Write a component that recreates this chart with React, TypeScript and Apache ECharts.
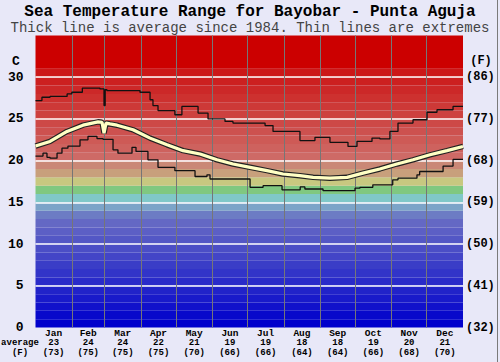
import React, { useEffect, useRef } from 'react';
import * as echarts from 'echarts';

const months = ['Jan', 'Feb', 'Mar', 'Apr', 'May', 'Jun', 'Jul', 'Aug', 'Sep', 'Oct', 'Nov', 'Dec'];
const monthAvgC = [23, 24, 24, 22, 21, 19, 19, 18, 18, 19, 20, 21];
const monthAvgF = [73, 75, 75, 75, 70, 66, 66, 64, 64, 66, 68, 70];
const monthStarts = [0, 31, 59, 90, 120, 151, 181, 212, 243, 273, 304, 334, 365];
const yTicksC = [0, 5, 10, 15, 20, 25, 30];

// [day of year, °C]
const maxTemp: [number, number][] = [
  [0, 27.2], [5.5, 27.6], [12.4, 27.7], [27, 28.0], [31, 28.2], [40, 28.7], [55, 28.6],
  [58.5, 26.6], [59.5, 28.5], [61, 28.4], [89.2, 28.2], [97.8, 27.3], [100.3, 26.6],
  [104.6, 26.0], [119, 25.5], [125, 26.5], [138.8, 25.7], [147.3, 25.0], [161.8, 24.7],
  [168.6, 24.5], [196, 24.2], [202.8, 23.5], [225.8, 22.4], [238.6, 22.8], [251.4, 22.2],
  [266.8, 21.7], [274.5, 22.3], [287.3, 22.7], [294, 22.6], [302.6, 23.5], [309.5, 24.5],
  [322.3, 24.9], [334.3, 25.8], [342.8, 26.1], [356.5, 26.5], [365, 26.5],
];

const minTemp: [number, number][] = [
  [0, 20.55], [6.4, 20.9], [9.8, 20.4], [12.4, 20.3], [18.4, 20.9], [22.6, 21.5], [27.7, 21.75],
  [38, 22.5], [44.8, 22.9], [52.5, 22.65], [57.6, 22.55], [66.2, 21.3], [70.4, 20.9],
  [82.4, 21.6], [85.8, 21.1], [96, 20.1], [104.6, 19.2], [119, 18.8], [136.2, 18.1],
  [146.4, 18.3], [149, 17.8], [183.2, 16.8], [194.3, 17.0], [210.5, 16.5], [226, 16.85],
  [230, 16.6], [245.5, 16.4], [272.8, 16.7], [277, 16.8], [288, 17.1], [305, 17.7],
  [309.5, 17.9], [325.7, 18.3], [328, 18.7], [348, 19.35], [356.5, 20.15], [365, 20.15],
];

const avgTemp: [number, number][] = [
  [0, 21.75], [12.4, 22.3], [26.9, 23.5], [40.6, 24.25], [53.4, 24.65], [56.8, 24.6],
  [58.5, 23.3], [60.2, 24.5], [63.6, 24.4], [69.6, 24.25], [83.3, 23.7], [97.8, 22.7],
  [112.3, 21.9], [126, 21.2], [140.5, 20.8], [155, 20.1], [168.6, 19.6], [183.2, 19.2],
  [197.7, 18.8], [211.3, 18.4], [225.8, 18.2], [237, 18.0], [251.4, 17.9], [266, 18.0],
  [279.6, 18.5], [294, 19.0], [308.6, 19.6], [322.3, 20.1], [336.8, 20.7], [351.3, 21.2],
  [365, 21.7],
];

const FONT = '"Liberation Mono", "DejaVu Sans Mono", monospace';

function mix(a: number[], b: number[], f: number) {
  const c = a.map((v, i) => Math.round(v + (b[i] - v) * f));
  return `rgb(${c[0]},${c[1]},${c[2]})`;
}

function bandColor(t: number): string {
  if (t >= 31) return 'rgb(204,0,0)';
  if (t >= 20) return mix([206, 106, 102], [204, 24, 24], (t - 20) / 10);
  const mid: Record<number, string> = {
    19: 'rgb(202,136,118)',
    18: 'rgb(200,160,124)',
    17: 'rgb(200,200,128)',
    16: 'rgb(128,200,128)',
    15: 'rgb(128,200,200)',
    14: 'rgb(124,164,200)',
    13: 'rgb(108,124,196)',
  };
  if (mid[t]) return mid[t];
  return mix([0, 0, 204], [100, 104, 196], t / 12);
}

export default function App() {
  const ref = useRef<HTMLDivElement>(null);

  useEffect(() => {
    const chart = echarts.init(ref.current!, null, { renderer: 'svg' });

    const bands: any[] = [];
    for (let t = 0; t < 35; t++) {
      if (t >= 31) {
        bands.push([{ yAxis: 31, itemStyle: { color: bandColor(31) } }, { yAxis: 35 }]);
        break;
      }
      bands.push([{ yAxis: t, itemStyle: { color: bandColor(t) } }, { yAxis: t + 1 }]);
    }

    const centers = months.map((_, i) => (monthStarts[i] + monthStarts[i + 1]) / 2);

    const option: any = {
      animation: false,
      backgroundColor: '#e8e8f8',
      grid: {
        left: 35.5,
        right: 37,
        top: 35.5,
        bottom: 34.5,
        containLabel: false,
        outerBoundsMode: 'none',
      },
      xAxis: {
        type: 'value',
        min: 0,
        max: 365,
        axisLine: { show: false },
        axisTick: { show: false },
        splitLine: { show: false },
        axisLabel: {
          customValues: centers,
          margin: 1,
          interval: 0,
          formatter: (v: number) => {
            const i = centers.findIndex((c) => Math.abs(c - v) < 0.01);
            if (i < 0) return '';
            return `{m|${months[i]}}\n{n|${monthAvgC[i]}}\n{n|(${monthAvgF[i]})}`;
          },
          rich: {
            m: { fontFamily: FONT, fontSize: 9.5, fontWeight: 'bold', color: '#000', lineHeight: 9.6 },
            n: { fontFamily: FONT, fontSize: 9, fontWeight: 'bold', color: '#000', lineHeight: 9.6 },
          },
        },
      },
      yAxis: [
        {
          type: 'value',
          min: 0,
          max: 35,
          interval: 5,
          axisLine: { show: false },
          axisTick: { show: false },
          splitLine: { show: false },
          axisLabel: {
            margin: 12,
            fontFamily: FONT,
            fontSize: 13,
            fontWeight: 'bold',
            color: '#000',
            formatter: (v: number) => (yTicksC.includes(v) ? String(v) : ''),
          },
        },
        {
          type: 'value',
          min: 0,
          max: 35,
          interval: 5,
          position: 'right',
          axisLine: { show: false },
          axisTick: { show: false },
          splitLine: { show: false },
          axisLabel: {
            margin: 3,
            fontFamily: FONT,
            fontSize: 12,
            fontWeight: 'bold',
            color: '#000',
            formatter: (v: number) =>
              yTicksC.includes(v) ? `(${Math.round((v * 9) / 5 + 32)})` : '',
          },
        },
      ],
      series: [
        {
          type: 'line',
          data: [],
          z: 1,
          silent: true,
          markArea: { silent: true, data: bands },
        },
        {
          type: 'line',
          data: [],
          z: 2,
          silent: true,
          markLine: {
            silent: true,
            symbol: ['none', 'none'],
            label: { show: false },
            data: [
              ...yTicksC.filter((v) => v > 0).map((v) => ({
                yAxis: v,
                lineStyle: { color: '#ffffff', width: 1.6, type: 'solid' },
              })),
              ...monthStarts.slice(1, 12).map((d) => ({
                xAxis: d,
                lineStyle: { color: '#767676', width: 1, type: 'solid' },
              })),
            ],
          },
        },
        {
          name: 'max',
          type: 'line',
          data: maxTemp,
          step: 'end',
          showSymbol: false,
          z: 5,
          lineStyle: { color: '#111', width: 1.3 },
        },
        {
          name: 'min',
          type: 'line',
          data: minTemp,
          step: 'end',
          showSymbol: false,
          z: 5,
          lineStyle: { color: '#111', width: 1.3 },
        },
        {
          name: 'avgOutline',
          type: 'line',
          data: avgTemp,
          showSymbol: false,
          z: 6,
          lineStyle: { color: '#222', width: 5.5 },
        },
        {
          name: 'avg',
          type: 'line',
          data: avgTemp,
          showSymbol: false,
          z: 7,
          lineStyle: { color: '#ffffc4', width: 3.2 },
        },
      ],
      graphic: [
        {
          type: 'text',
          left: 'center',
          top: 4,
          style: {
            text: 'Sea Temperature Range for Bayobar - Punta Aguja',
            font: `bold 16px ${FONT}`,
            fill: '#000',
          },
        },
        {
          type: 'text',
          left: 'center',
          top: 21,
          style: {
            text: 'Thick line is average since 1984. Thin lines are extremes',
            font: `14px ${FONT}`,
            fill: '#444',
          },
        },
        {
          type: 'text',
          x: 16,
          y: 61,
          style: { text: 'C', font: `bold 13px ${FONT}`, fill: '#000', align: 'center', verticalAlign: 'middle' },
        },
        {
          type: 'text',
          x: 481,
          y: 61,
          style: { text: '(F)', font: `bold 12px ${FONT}`, fill: '#000', align: 'center', verticalAlign: 'middle' },
        },
        {
          type: 'text',
          x: 20,
          y: 343,
          style: { text: 'average', font: `bold 9px ${FONT}`, fill: '#000', align: 'center', verticalAlign: 'middle' },
        },
        {
          type: 'text',
          x: 20,
          y: 353,
          style: { text: '(F)', font: `bold 9px ${FONT}`, fill: '#000', align: 'center', verticalAlign: 'middle' },
        },
        {
          type: 'line',
          shape: { x1: 497.5, y1: 0, x2: 497.5, y2: 362 },
          style: { stroke: '#7a7a7a', lineWidth: 1 },
        },
      ],
    };

    chart.setOption(option);
    return () => chart.dispose();
  }, []);

  return (
    <div
      ref={ref}
      style={{ position: 'fixed', left: 0, top: 0, width: 500, height: 362 }}
    />
  );
}
